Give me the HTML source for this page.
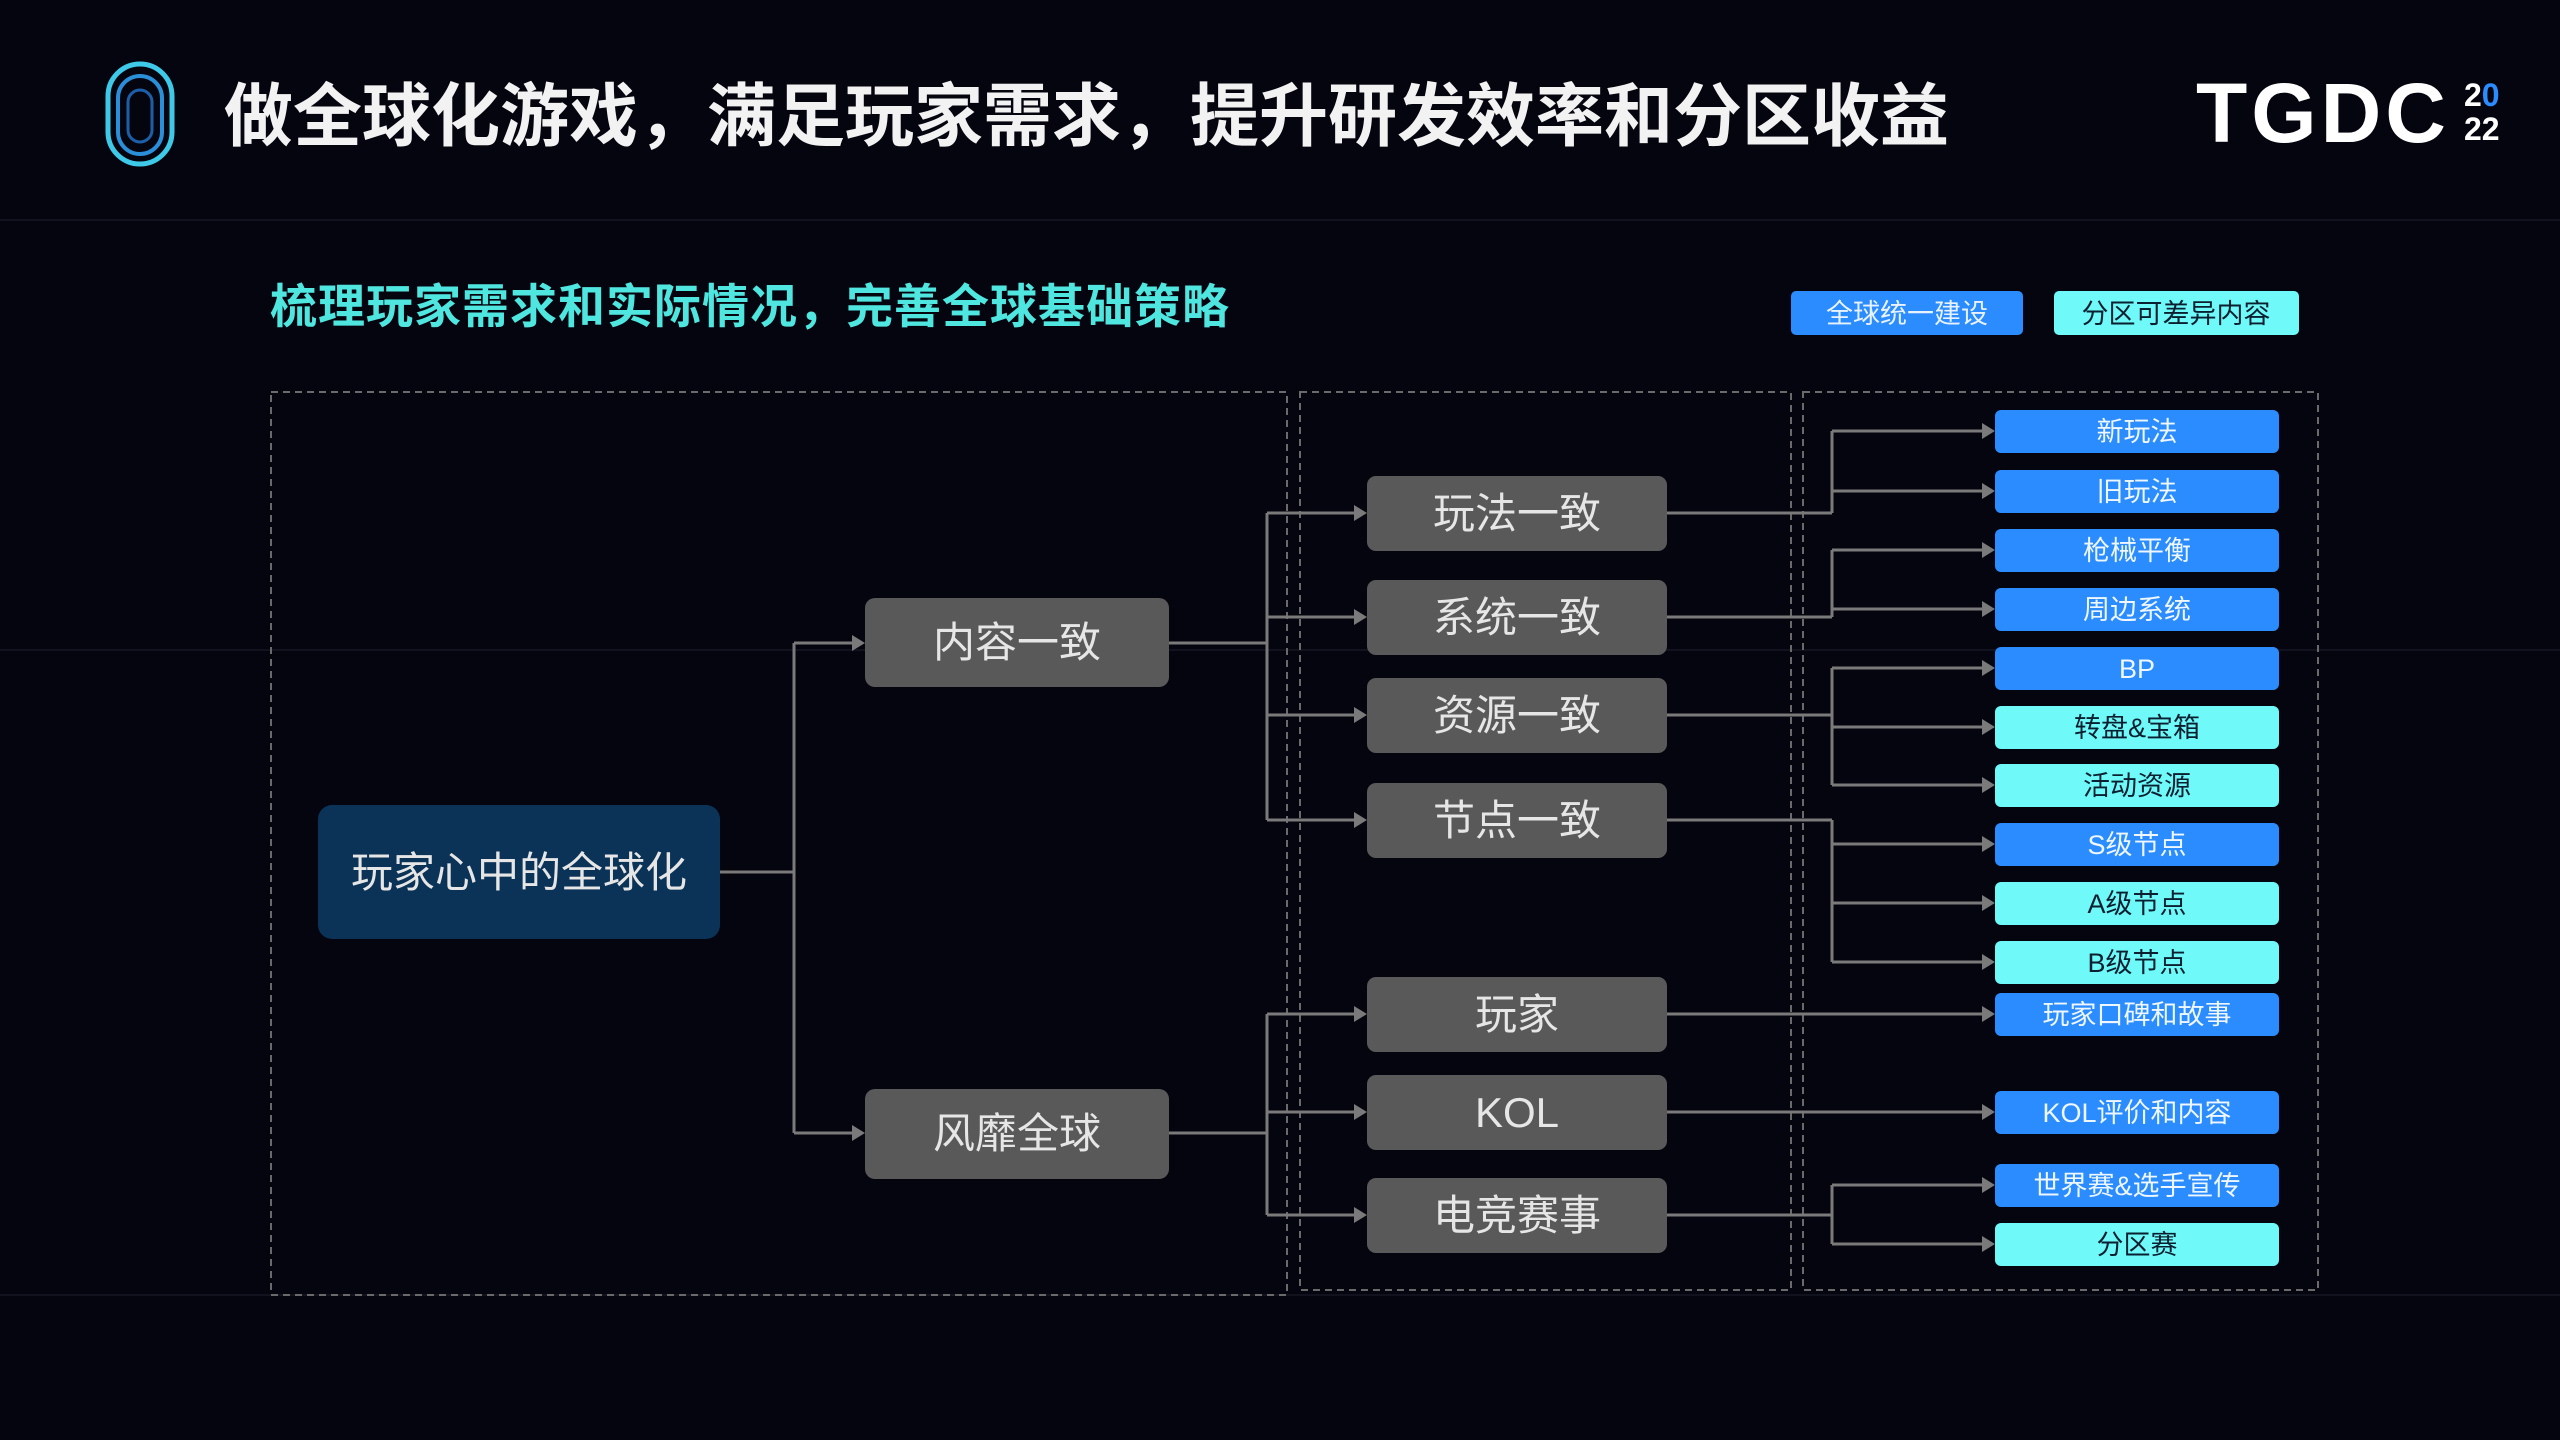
<!DOCTYPE html>
<html><head><meta charset="utf-8"><style>
html,body{margin:0;padding:0;background:#05050f;}
svg{display:block}
text{font-family:"Liberation Sans","Noto Sans CJK SC",sans-serif;}
</style></head><body>
<svg width="2560" height="1440" viewBox="0 0 2560 1440" xmlns="http://www.w3.org/2000/svg">
<rect width="2560" height="1440" fill="#05050f"/>
<g stroke="#12121e" stroke-width="2">
<line x1="0" y1="220" x2="2560" y2="220"/><line x1="0" y1="650" x2="2560" y2="650"/><line x1="0" y1="1295" x2="2560" y2="1295"/>
</g>
<g fill="none">
<rect x="108" y="64" width="64" height="100" rx="32" stroke="#3fc9e8" stroke-width="5"/>
<rect x="118" y="76" width="44" height="78" rx="22" stroke="#2a8fd8" stroke-width="4"/>
<rect x="128" y="90" width="24" height="52" rx="12" stroke="#1c5fa8" stroke-width="3"/>
</g>
<text x="224" y="140" font-size="69" font-weight="bold" fill="#f2f2f2">做全球化游戏，满足玩家需求，提升研发效率和分区收益</text>
<text x="2196" y="142" font-size="84" font-weight="bold" fill="#ffffff" letter-spacing="4">TGDC</text>
<text x="2464" y="106" font-size="32" font-weight="bold" fill="#ffffff">2<tspan fill="#2b8cff">0</tspan></text>
<text x="2464" y="140" font-size="32" font-weight="bold" fill="#ffffff">22</text>
<text x="270" y="323" font-size="47" font-weight="bold" fill="#4fe6e0" letter-spacing="1">梳理玩家需求和实际情况，完善全球基础策略</text>
<rect x="1791" y="291" width="232" height="44" rx="5" fill="#2b8cff"/>
<text x="1907" y="323" font-size="27" fill="#e8f2ff" text-anchor="middle">全球统一建设</text>
<rect x="2054" y="291" width="245" height="44" rx="5" fill="#6ff9f9"/>
<text x="2176" y="323" font-size="27" fill="#0a2030" text-anchor="middle">分区可差异内容</text>
<g fill="none" stroke="#6a6a6a" stroke-width="2" stroke-dasharray="7,5">
<rect x="271" y="392" width="1016" height="903"/>
<rect x="1300" y="392" width="491" height="898"/>
<rect x="1803" y="392" width="515" height="898"/>
</g>
<g stroke="#7a7a7a" stroke-width="3" fill="none">
<path d="M720 872 H794 M794 643 V1133 M794 643 H855 M794 1133 H855"/>
<path d="M1169 643 H1267 M1267 513 V820 M1267 513 H1357 M1267 617 H1357 M1267 715 H1357 M1267 820 H1357"/>
<path d="M1169 1133 H1267 M1267 1014 V1215 M1267 1014 H1357 M1267 1112 H1357 M1267 1215 H1357"/>
<path d="M1667 513 H1832 M1832 431 V513 M1832 431 H1985 M1832 491 H1985"/>
<path d="M1667 617 H1832 M1832 550 V617 M1832 550 H1985 M1832 609 H1985"/>
<path d="M1667 715 H1832 M1832 668 V785 M1832 668 H1985 M1832 727 H1985 M1832 785 H1985"/>
<path d="M1667 820 H1832 M1832 820 V962 M1832 844 H1985 M1832 903 H1985 M1832 962 H1985"/>
<path d="M1667 1014 H1985 M1667 1112 H1985"/>
<path d="M1667 1215 H1832 M1832 1185 V1244 M1832 1185 H1985 M1832 1244 H1985"/>
</g>
<g fill="#7a7a7a">
<path d="M865 643 l-13 -8 v16z M865 1133 l-13 -8 v16z"/>
<path d="M1367 513 l-13 -8 v16z M1367 617 l-13 -8 v16z M1367 715 l-13 -8 v16z M1367 820 l-13 -8 v16z M1367 1014 l-13 -8 v16z M1367 1112 l-13 -8 v16z M1367 1215 l-13 -8 v16z"/>
<path d="M1995 431 l-13 -8 v16z M1995 491 l-13 -8 v16z M1995 550 l-13 -8 v16z M1995 609 l-13 -8 v16z M1995 668 l-13 -8 v16z M1995 727 l-13 -8 v16z M1995 785 l-13 -8 v16z M1995 844 l-13 -8 v16z M1995 903 l-13 -8 v16z M1995 962 l-13 -8 v16z M1995 1014 l-13 -8 v16z M1995 1112 l-13 -8 v16z M1995 1185 l-13 -8 v16z M1995 1244 l-13 -8 v16z"/>
</g>
<rect x="318" y="805" width="402" height="134" rx="14" fill="#0b3257"/>
<text x="519" y="887" font-size="42" fill="#e6e6e6" text-anchor="middle">玩家心中的全球化</text>
<g fill="#595959"><rect x="865" y="598" width="304" height="89" rx="10"/><rect x="865" y="1089" width="304" height="90" rx="10"/></g>
<g font-size="42" fill="#e6e6e6" text-anchor="middle">
<text x="1017" y="657">内容一致</text><text x="1017" y="1148">风靡全球</text>
</g>
<g fill="#595959">
<rect x="1367" y="476" width="300" height="75" rx="9"/><rect x="1367" y="580" width="300" height="75" rx="9"/>
<rect x="1367" y="678" width="300" height="75" rx="9"/><rect x="1367" y="783" width="300" height="75" rx="9"/>
<rect x="1367" y="977" width="300" height="75" rx="9"/><rect x="1367" y="1075" width="300" height="75" rx="9"/>
<rect x="1367" y="1178" width="300" height="75" rx="9"/>
</g>
<g font-size="42" fill="#e6e6e6" text-anchor="middle">
<text x="1517" y="528">玩法一致</text><text x="1517" y="632">系统一致</text><text x="1517" y="730">资源一致</text>
<text x="1517" y="835">节点一致</text><text x="1517" y="1029">玩家</text><text x="1517" y="1127">KOL</text><text x="1517" y="1230">电竞赛事</text>
</g>
<g>
<rect x="1995" y="410" width="284" height="43" rx="6" fill="#2b8cff"/>
<rect x="1995" y="470" width="284" height="43" rx="6" fill="#2b8cff"/>
<rect x="1995" y="529" width="284" height="43" rx="6" fill="#2b8cff"/>
<rect x="1995" y="588" width="284" height="43" rx="6" fill="#2b8cff"/>
<rect x="1995" y="647" width="284" height="43" rx="6" fill="#2b8cff"/>
<rect x="1995" y="706" width="284" height="43" rx="6" fill="#6ff9f9"/>
<rect x="1995" y="764" width="284" height="43" rx="6" fill="#6ff9f9"/>
<rect x="1995" y="823" width="284" height="43" rx="6" fill="#2b8cff"/>
<rect x="1995" y="882" width="284" height="43" rx="6" fill="#6ff9f9"/>
<rect x="1995" y="941" width="284" height="43" rx="6" fill="#6ff9f9"/>
<rect x="1995" y="993" width="284" height="43" rx="6" fill="#2b8cff"/>
<rect x="1995" y="1091" width="284" height="43" rx="6" fill="#2b8cff"/>
<rect x="1995" y="1164" width="284" height="43" rx="6" fill="#2b8cff"/>
<rect x="1995" y="1223" width="284" height="43" rx="6" fill="#6ff9f9"/>
</g>
<g font-size="27" text-anchor="middle">
<text x="2137" y="441" fill="#eef6ff">新玩法</text>
<text x="2137" y="501" fill="#eef6ff">旧玩法</text>
<text x="2137" y="560" fill="#eef6ff">枪械平衡</text>
<text x="2137" y="619" fill="#eef6ff">周边系统</text>
<text x="2137" y="678" fill="#eef6ff">BP</text>
<text x="2137" y="737" fill="#0a2030">转盘&amp;宝箱</text>
<text x="2137" y="795" fill="#0a2030">活动资源</text>
<text x="2137" y="854" fill="#eef6ff">S级节点</text>
<text x="2137" y="913" fill="#0a2030">A级节点</text>
<text x="2137" y="972" fill="#0a2030">B级节点</text>
<text x="2137" y="1024" fill="#eef6ff">玩家口碑和故事</text>
<text x="2137" y="1122" fill="#eef6ff">KOL评价和内容</text>
<text x="2137" y="1195" fill="#eef6ff">世界赛&amp;选手宣传</text>
<text x="2137" y="1254" fill="#0a2030">分区赛</text>
</g>
</svg>
</body></html>
